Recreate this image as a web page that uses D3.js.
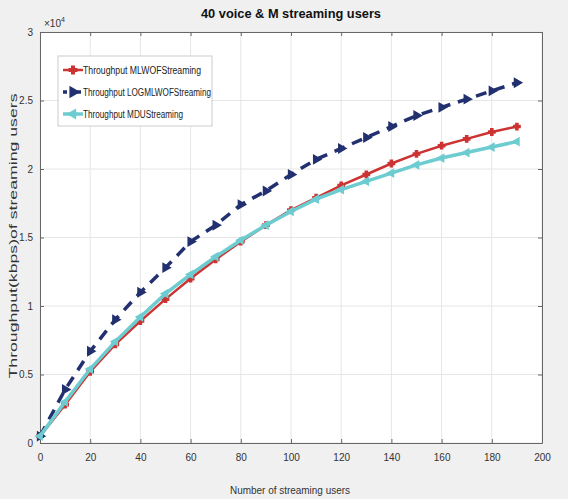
<!DOCTYPE html>
<html>
<head>
<meta charset="utf-8">
<script src="https://cdn.jsdelivr.net/npm/d3@7"></script>
<style>
  body { margin: 0; background: #f0f0f0; }
  svg { display: block; font-family: "Liberation Sans", Arial, sans-serif; }
  .grid line { stroke: #e6e6e6; }
  .axis text { fill: #333; font-size: 10px; }
  .axis path, .axis line { stroke: #666; }
</style>
</head>
<body>
<svg id="chart" width="568" height="499"></svg>
<script>
var users   = [0, 10, 20, 30, 40, 50, 60, 70, 80, 90, 100, 110, 120, 130, 140, 150, 160, 170, 180, 190];
var mlwof   = [0.05, 0.28, 0.52, 0.72, 0.89, 1.05, 1.20, 1.34, 1.47, 1.59, 1.70, 1.79, 1.88, 1.96, 2.04, 2.11, 2.17, 2.22, 2.27, 2.31];
var logml   = [0.05, 0.39, 0.67, 0.90, 1.10, 1.28, 1.47, 1.59, 1.74, 1.84, 1.96, 2.07, 2.15, 2.23, 2.31, 2.39, 2.45, 2.51, 2.57, 2.63];
var mdu     = [0.05, 0.30, 0.54, 0.74, 0.92, 1.09, 1.23, 1.36, 1.48, 1.59, 1.69, 1.78, 1.85, 1.91, 1.97, 2.03, 2.08, 2.12, 2.16, 2.20];
var seriesNames = ['Throughput MLWOFStreaming', 'Throughput LOGMLWOFStreaming', 'Throughput MDUStreaming'];
var xTicks  = [0, 20, 40, 60, 80, 100, 120, 140, 160, 180, 200];
var yTicks  = [0, 0.5, 1, 1.5, 2, 2.5, 3];

var layout = {
    left: 40, right: 542, top: 32, bottom: 443
};

var series = [
    { name: seriesNames[0], values: mlwof, color: '#cc3333', width: 2.5, dash: null, symbol: d3.symbolCross, size: 22, textLen: 118 },
    { name: seriesNames[1], values: logml, color: '#22306f', width: 3.5, dash: '11,8', symbol: d3.symbolTriangle, size: 30, rotate: 90, textLen: 128 },
    { name: seriesNames[2], values: mdu, color: '#6cccd0', width: 3.5, dash: null, symbol: d3.symbolTriangle, size: 22, rotate: -90, textLen: 100 }
];

var svg = d3.select('#chart');

var x = d3.scaleLinear().domain([0, 200]).range([layout.left, layout.right]);
var y = d3.scaleLinear().domain([0, 3]).range([layout.bottom, layout.top]);

svg.append('rect')
    .attr('x', layout.left).attr('y', layout.top)
    .attr('width', layout.right - layout.left)
    .attr('height', layout.bottom - layout.top)
    .attr('fill', '#fff')
;

// grid
svg.append('g').attr('class', 'grid')
    .selectAll('line.v').data(xTicks).enter().append('line')
    .attr('x1', d => x(d)).attr('x2', d => x(d))
    .attr('y1', layout.top).attr('y2', layout.bottom)
;
svg.select('.grid')
    .selectAll('line.h').data(yTicks).enter().append('line')
    .attr('x1', layout.left).attr('x2', layout.right)
    .attr('y1', d => y(d)).attr('y2', d => y(d))
;

// axes
svg.append('g').attr('class', 'axis')
    .attr('transform', `translate(0, ${ layout.bottom })`)
    .call(d3.axisBottom(x).tickValues(xTicks).tickSize(-4).tickPadding(11).tickSizeOuter(0))
;
svg.append('g').attr('class', 'axis')
    .attr('transform', `translate(${ layout.left }, 0)`)
    .call(d3.axisLeft(y).tickValues(yTicks).tickSize(-4).tickPadding(7).tickSizeOuter(0).tickFormat(d3.format('')))
;
svg.append('g').attr('class', 'axis')
    .attr('transform', `translate(0, ${ layout.top })`)
    .call(d3.axisTop(x).tickValues(xTicks).tickSize(-4).tickFormat('').tickSizeOuter(0))
;
svg.append('g').attr('class', 'axis')
    .attr('transform', `translate(${ layout.right }, 0)`)
    .call(d3.axisRight(y).tickValues(yTicks).tickSize(-4).tickFormat('').tickSizeOuter(0))
;

// exponent
var expo = svg.append('text')
    .attr('x', 44).attr('y', 27)
    .attr('font-size', 10).attr('fill', '#333')
    .text('\u00d710')
;
expo.append('tspan').attr('dy', -5).attr('font-size', 7).text('4');

// lines
var line = d3.line()
    .x((d, i) => x(users[i]))
    .y(d => y(d))
;

series.forEach(s => {
    var g = svg.append('g').attr('class', 'series');

    g.append('path')
        .datum(s.values)
        .attr('fill', 'none')
        .attr('stroke', s.color)
        .attr('stroke-width', s.width)
        .attr('stroke-dasharray', s.dash)
        .attr('d', line)
    ;

    g.selectAll('path.marker').data(s.values).enter().append('path')
        .attr('class', 'marker')
        .attr('d', d3.symbol().type(s.symbol).size(s.size))
        .attr('transform', (d, i) => `translate(${ x(users[i]) }, ${ y(d) }) rotate(${ s.rotate || 0 })`)
        .attr('fill', s.color)
        .attr('stroke', s.color)
        .attr('stroke-width', 1.5)
    ;
});

// legend
var legend = svg.append('g').attr('transform', 'translate(58, 56)');

legend.append('rect')
    .attr('width', 154).attr('height', 70)
    .attr('fill', '#fff').attr('stroke', '#ccc')
;

series.forEach((s, i) => {
    var row = legend.append('g').attr('transform', `translate(0, ${ 14 + i * 22 })`);

    row.append('line')
        .attr('x1', 5).attr('x2', 25)
        .attr('stroke', s.color).attr('stroke-width', s.width)
        .attr('stroke-dasharray', s.dash ? '4,3' : null)
    ;
    row.append('path')
        .attr('d', d3.symbol().type(s.symbol).size(s.size * 1.4))
        .attr('transform', `translate(15, 0) rotate(${ s.rotate || 0 })`)
        .attr('fill', s.color).attr('stroke', s.color).attr('stroke-width', 1.5)
    ;
    row.append('text')
        .attr('x', 25).attr('y', 4)
        .attr('font-size', 10).attr('fill', '#222')
        .attr('textLength', s.textLen).attr('lengthAdjust', 'spacingAndGlyphs')
        .text(s.name)
    ;
});

// titles
svg.append('text')
    .attr('x', 291).attr('y', 18)
    .attr('text-anchor', 'middle')
    .attr('font-size', 12).attr('font-weight', 'bold').attr('fill', '#111')
    .attr('textLength', 180).attr('lengthAdjust', 'spacingAndGlyphs')
    .text('40 voice & M streaming users')
;
svg.append('text')
    .attr('x', 290).attr('y', 494)
    .attr('text-anchor', 'middle')
    .attr('font-size', 11).attr('fill', '#333')
    .attr('textLength', 120).attr('lengthAdjust', 'spacingAndGlyphs')
    .text('Number of streaming users')
;
svg.append('text')
    .attr('transform', 'translate(17, 236) rotate(-90)')
    .attr('text-anchor', 'middle')
    .attr('font-size', 10.5).attr('fill', '#333')
    .attr('textLength', 285).attr('lengthAdjust', 'spacingAndGlyphs')
    .text('Throughput(kbps)of streaming users')
;
</script>
</body>
</html>
